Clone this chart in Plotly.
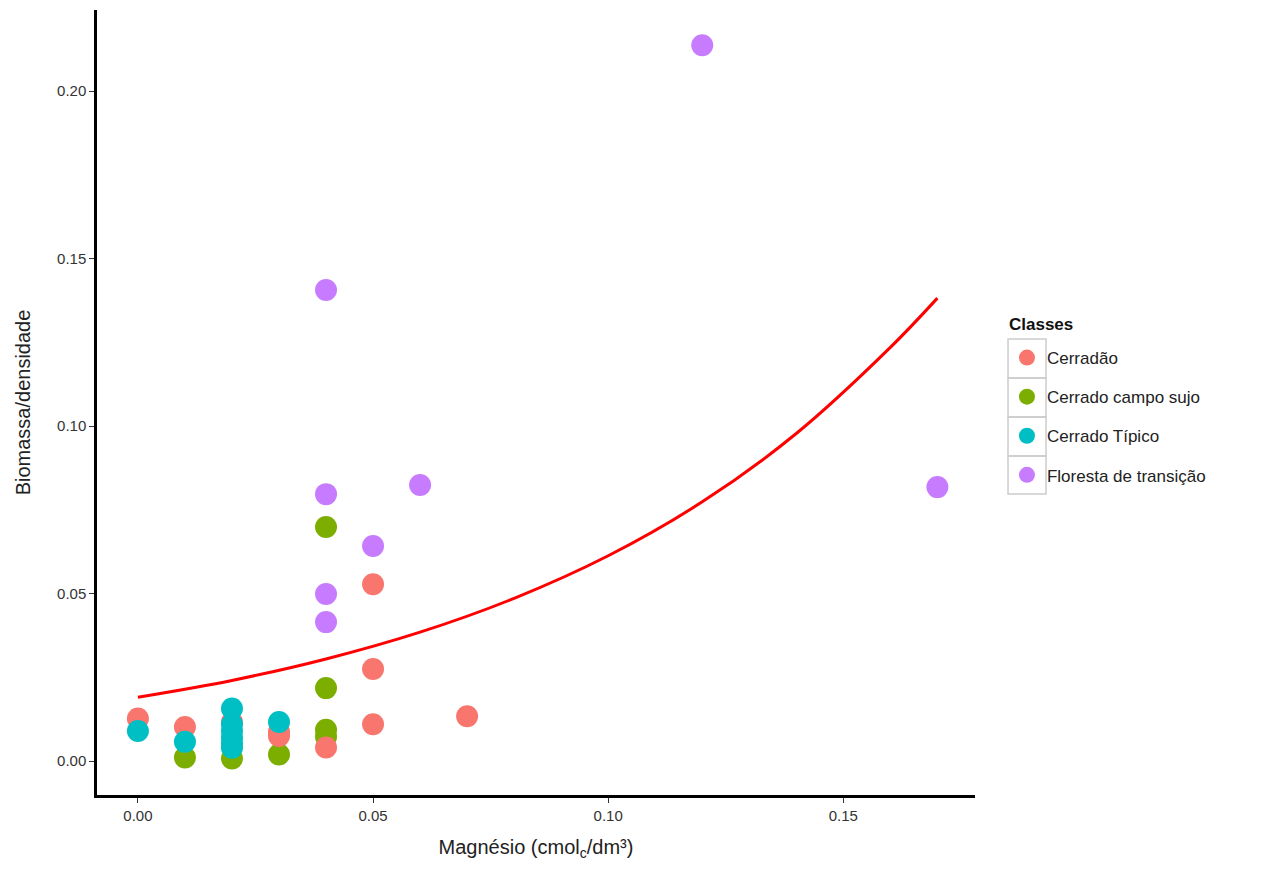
import plotly.graph_objects as go

# ---- data ----
classes = ["Cerradão", "Cerrado campo sujo", "Cerrado Típico", "Floresta de transição"]
colors = ["#F8766D", "#7CAE00", "#00BFC4", "#C77CFF"]

cerradao_x = [0.00, 0.01, 0.02, 0.03, 0.03, 0.04, 0.05, 0.05, 0.05, 0.07]
cerradao_y = [0.0127, 0.0102, 0.0117, 0.0075, 0.0088, 0.0041, 0.0528, 0.0275, 0.0110, 0.0134]

sujo_x = [0.01, 0.02, 0.03, 0.04, 0.04, 0.04, 0.04]
sujo_y = [0.0011, 0.0008, 0.0020, 0.0699, 0.0218, 0.0094, 0.0073]

tipico_x = [0.00, 0.01, 0.02, 0.02, 0.02, 0.02, 0.02, 0.02, 0.03]
tipico_y = [0.0090, 0.0058, 0.0157, 0.0110, 0.0090, 0.0070, 0.0052, 0.0040, 0.0117]

floresta_x = [0.12, 0.04, 0.04, 0.06, 0.05, 0.04, 0.04, 0.17]
floresta_y = [0.2137, 0.1406, 0.0797, 0.0824, 0.0642, 0.0499, 0.0415, 0.0818]

fit_x = [0.00, 0.02, 0.04, 0.06, 0.08, 0.10, 0.12, 0.14, 0.16, 0.17]
fit_y = [0.0191, 0.0241, 0.0305, 0.0385, 0.0486, 0.0613, 0.0774, 0.0978, 0.1235, 0.1382]

series = [
    (classes[1], sujo_x, sujo_y, colors[1], 2),
    (classes[0], cerradao_x, cerradao_y, colors[0], 1),
    (classes[2], tipico_x, tipico_y, colors[2], 3),
    (classes[3], floresta_x, floresta_y, colors[3], 4),
]

fig = go.Figure()
for name, xs, ys, col, rank in series:
    fig.add_trace(go.Scatter(
        x=xs, y=ys, mode="markers", name=name,
        marker=dict(color=col, size=22, line=dict(width=0)),
        legendrank=rank, legendgroup=name,
    ))

fig.add_trace(go.Scatter(
    x=fit_x, y=fit_y, mode="lines", line=dict(color="#FF0000", width=3, shape="spline"),
    showlegend=False, hoverinfo="skip",
))

axis_common = dict(
    showgrid=False, zeroline=False, showline=True, linecolor="black", linewidth=2.5,
    ticks="outside", ticklen=5, tickcolor="#333333", tickwidth=1,
    tickfont=dict(family="Liberation Sans, Arial", size=15, color="#333333"),
    mirror=False,
)

# grey key boxes of the legend (paper coordinates)
key_edges = [0.5809, 0.5312, 0.4815, 0.4318, 0.3834]
shapes = []
for i in range(4):
    shapes.append(dict(type="rect", xref="paper", yref="paper",
                       x0=1.0376, x1=1.0809, y0=key_edges[i + 1], y1=key_edges[i],
                       line=dict(color="#cccccc", width=1.5), fillcolor="rgba(0,0,0,0)"))

fig.update_layout(
    width=1262, height=869,
    margin=dict(l=97, r=287, t=10, b=74),
    plot_bgcolor="white", paper_bgcolor="white",
    font=dict(family="Liberation Sans, Arial", color="#222222"),
    xaxis=dict(range=[-0.0087, 0.178], tickvals=[0, 0.05, 0.10, 0.15],
               ticktext=["0.00", "0.05", "0.10", "0.15"],
               title=dict(text="Magnésio (cmol<sub>c</sub>/dm³)", font=dict(size=20, color="#222222"), standoff=18),
               **axis_common),
    yaxis=dict(range=[-0.0101, 0.2242], tickvals=[0, 0.05, 0.10, 0.15, 0.20],
               ticktext=["0.00", "0.05", "0.10", "0.15", "0.20"],
               title=dict(text="Biomassa/densidade", font=dict(size=20, color="#222222"), standoff=22),
               **axis_common),
    legend=dict(
        font=dict(size=17, color="#222222"),
        x=1.0364, xanchor="left", y=0.5796, yanchor="top",
        tracegroupgap=14, itemsizing="trace", bgcolor="rgba(0,0,0,0)",
    ),
    annotations=[dict(text="<b>Classes</b>", xref="paper", yref="paper",
                      x=1.0364, y=(795 - 324) / 785, xanchor="left", yanchor="middle",
                      showarrow=False, font=dict(size=17, color="#111111"))],
    shapes=shapes,
    showlegend=True,
)

fig.write_html("out.html")
